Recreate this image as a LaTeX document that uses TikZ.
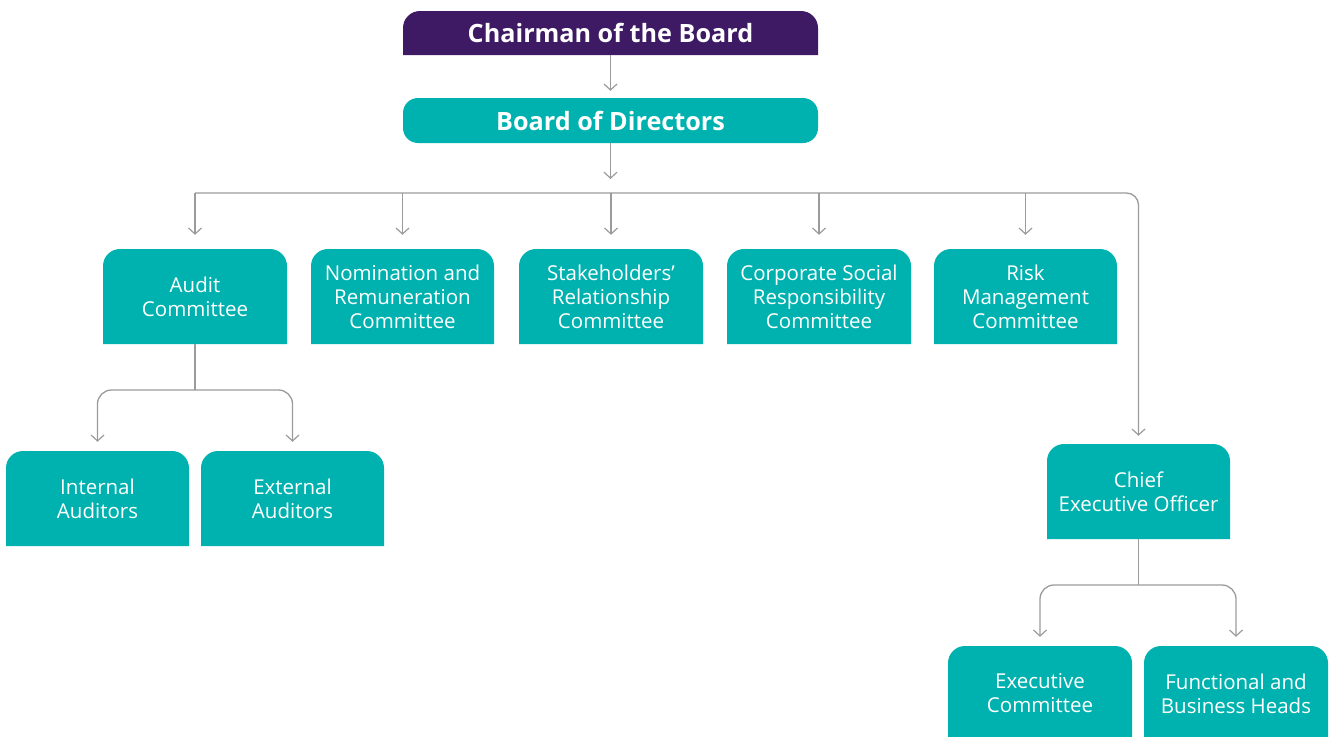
\documentclass[tikz,border=0pt]{standalone}
\usepackage{fontspec}
\setmainfont{Open Sans}
\usetikzlibrary{arrows.meta,fit}
\definecolor{tealbox}{HTML}{00B2AF}
\definecolor{purplebox}{HTML}{3E1A64}
\definecolor{linegray}{HTML}{9B9B9B}
\tikzset{
  conn/.style={draw=linegray, line width=1.3pt},
  arr/.style={conn, -{Straight Barb[length=6pt,width=13pt,line width=1.2pt]}},
  boxarea/.style={inner sep=0pt},
  boxtext/.style={inner sep=0pt, align=center, text=white, font=\fontsize{20.5}{24}\selectfont},
  titletext/.style={inner sep=0pt, align=center, text=white, font=\fontsize{25.2}{30}\selectfont\bfseries},
}
% name, colour, x1, y1, x2, y2, text style, text
\newcommand\topbox[8]{%
  \fill[#2] (#3,#6) [rounded corners=17pt] -- (#3,#4) -- (#5,#4) [sharp corners] -- (#5,#6) -- cycle;
  \node[fit={(#3,#4) (#5,#6)}, boxarea] (#1) {};
  \node[#7] (#1-t) at (#1.center) {#8};
}
\begin{document}
\begin{tikzpicture}[x=1pt,y=-1pt]
\useasboundingbox (0,0) rectangle (1330,736);

\topbox{chair}{purplebox}{403}{11}{818}{55}{titletext}{Chairman of the Board}
\fill[tealbox, rounded corners=15pt] (403,98) rectangle (818,143);
\node[fit={(403,98) (818,143)}, boxarea] (board) {};
\node[titletext] (board-t) at (board.center) {Board of Directors};

\topbox{aud}{tealbox}{103}{249}{287}{344}{boxtext}{Audit\\Committee}
\topbox{nom}{tealbox}{311}{249}{494}{344}{boxtext}{Nomination and\\Remuneration\\Committee}
\topbox{stk}{tealbox}{519}{249}{703}{344}{boxtext}{Stakeholders’\\Relationship\\Committee}
\topbox{csr}{tealbox}{727}{249}{911}{344}{boxtext}{Corporate Social\\Responsibility\\Committee}
\topbox{risk}{tealbox}{934}{249}{1117}{344}{boxtext}{Risk\\Management\\Committee}

\topbox{int}{tealbox}{6}{451}{189}{546}{boxtext}{Internal\\Auditors}
\topbox{ext}{tealbox}{201}{451}{384}{546}{boxtext}{External\\Auditors}

\topbox{ceo}{tealbox}{1047}{444}{1230}{539}{boxtext}{Chief\\Executive Officer}

\topbox{exe}{tealbox}{948}{646}{1132}{741}{boxtext}{Executive\\Committee}
\topbox{fun}{tealbox}{1144}{646}{1328}{741}{boxtext}{Functional and\\Business Heads}

\coordinate (bus) at (610.5,193);
\coordinate (asplit) at (195,390);
\coordinate (csplit) at (1138.5,585);

\draw[arr, shorten >=7pt] (chair) -- (board);
\draw[arr, shorten >=14pt] (board) -- (bus);

\draw[arr, rounded corners=12pt, shorten >=8pt] (aud.north |- bus) -- (ceo.north |- bus) -- (ceo);
\foreach \n in {aud,nom,stk,csr,risk}
  \draw[arr, shorten >=14pt] (\n.north |- bus) -- (\n);

\draw[conn] (aud) -- (asplit);
\draw[arr, rounded corners=14pt, shorten >=9pt] (asplit) -- (int.north |- asplit) -- (int);
\draw[arr, rounded corners=14pt, shorten >=9pt] (asplit) -- (ext.north |- asplit) -- (ext);

\draw[conn] (ceo) -- (csplit);
\draw[arr, rounded corners=14pt, shorten >=9pt] (csplit) -- (exe.north |- csplit) -- (exe);
\draw[arr, rounded corners=14pt, shorten >=9pt] (csplit) -- (fun.north |- csplit) -- (fun);
\end{tikzpicture}
\end{document}
